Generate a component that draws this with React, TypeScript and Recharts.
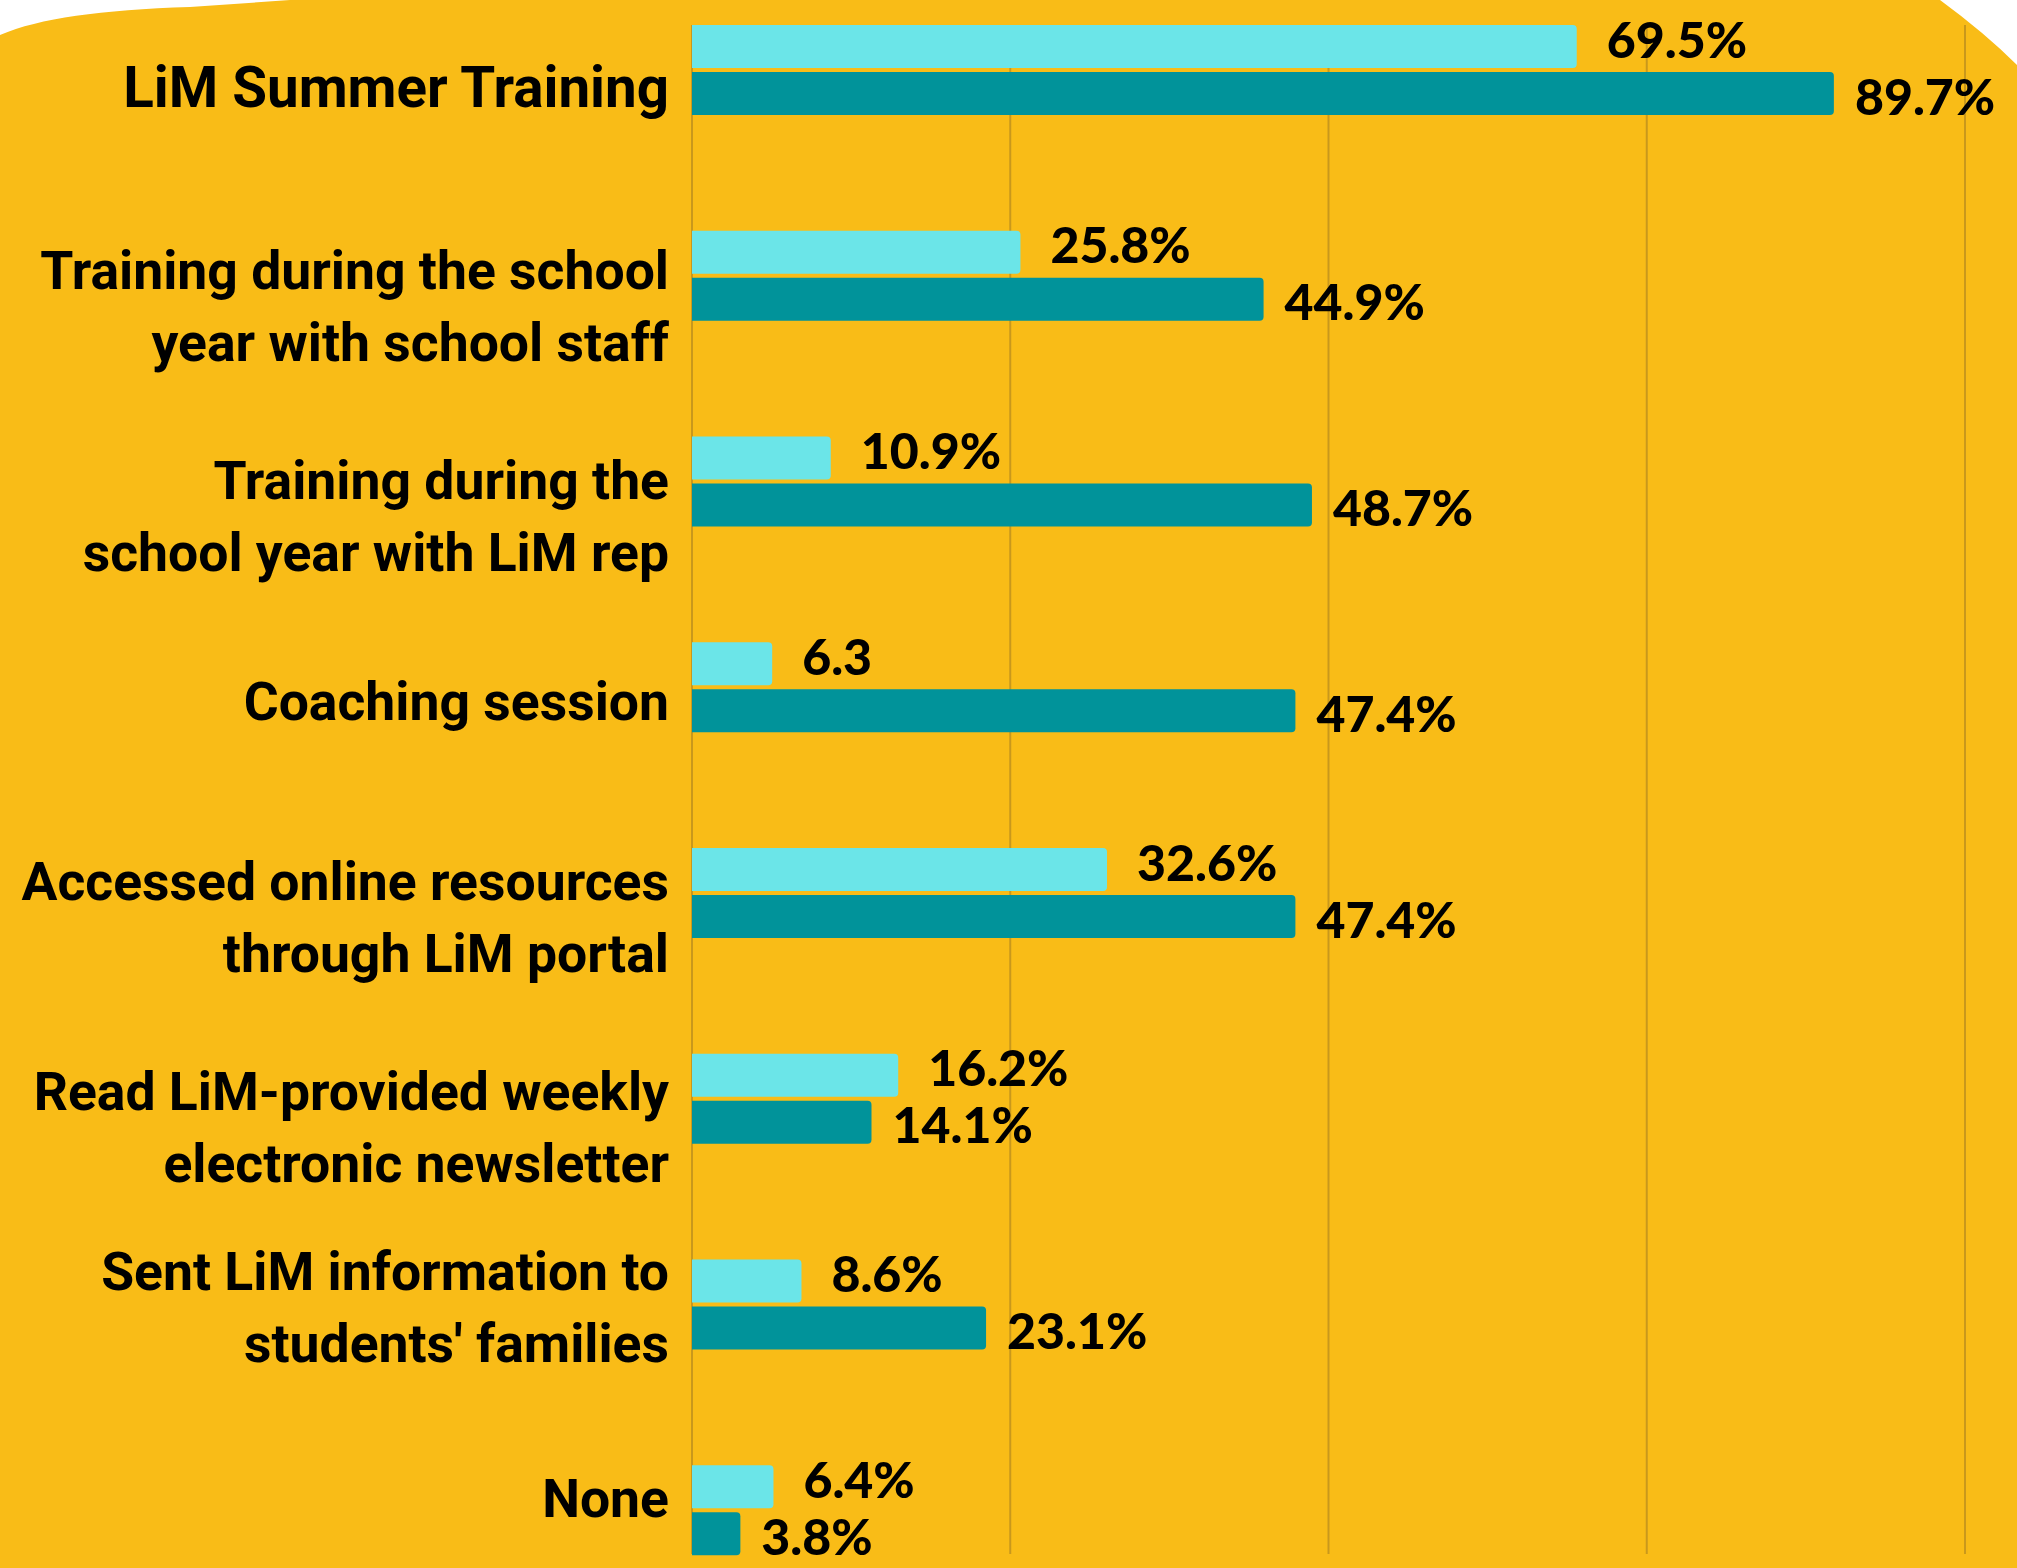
import { BarChart, Bar, XAxis, YAxis, CartesianGrid, LabelList } from "recharts";

const categories = [
  "LiM Summer Training",
  "Training during the school\nyear with school staff",
  "Training during the\nschool year with LiM rep",
  "Coaching session",
  "Accessed online resources\nthrough LiM portal",
  "Read LiM-provided weekly\nelectronic newsletter",
  "Sent LiM information to\nstudents' families",
  "None",
];
const lightValues = [69.5, 25.8, 10.9, 6.3, 32.6, 16.2, 8.6, 6.4];
const darkValues = [89.7, 44.9, 48.7, 47.4, 47.4, 14.1, 23.1, 3.8];
const lightLabels = ["69.5%", "25.8%", "10.9%", "6.3", "32.6%", "16.2%", "8.6%", "6.4%"];
const darkLabels = ["89.7%", "44.9%", "48.7%", "47.4%", "47.4%", "14.1%", "23.1%", "3.8%"];
const xTicks = [0, 25, 50, 75, 100];

// vertical nudge of each category label relative to its bar pair (px)
const labelShift = [18, 30, 35, 14, 24, 28, 3, -12];

const W = 2017;
const H = 1568;
const YELLOW = "#F9BC17";
const GRID = "#C9981C";

const data = categories.map((name, i) => ({
  name,
  light: lightValues[i],
  dark: darkValues[i],
  lightLabel: lightLabels[i],
  darkLabel: darkLabels[i],
}));

function CategoryTick({ x, y, payload, index }: any) {
  const lines = String(payload.value).split("\n");
  const lh = 72;
  const i0 = index ?? 0;
  const mid = y + labelShift[i0];
  // the first heading is set a little larger in the original
  const size = i0 === 0 ? 56.5 : 53.5;
  return (
    <g>
      {lines.map((line, i) => (
        <text
          key={i}
          x={x - 23}
          y={mid - ((lines.length - 1) * lh) / 2 + i * lh + 19}
          textAnchor="end"
          fontFamily="Roboto, 'Liberation Sans', sans-serif"
          fontWeight={700}
          fontSize={size}
          fill="#000"
        >
          {line}
        </text>
      ))}
    </g>
  );
}

function valueLabel(dx: number, dy: number) {
  return (props: any) => {
    const { x, y, width, height, value } = props;
    return (
      <text
        x={x + width + dx}
        y={y + height / 2 + dy + 18}
        fontFamily="Lato, 'Open Sans', sans-serif"
        fontWeight={900}
        fontSize={50}
        fill="#000"
      >
        {value}
      </text>
    );
  };
}

export default function App() {
  return (
    <div style={{ position: "absolute", left: 0, top: 0, width: W, height: H, background: "#fff" }}>
      <svg width={W} height={H} style={{ position: "absolute", left: 0, top: 0 }}>
        <path
          d="M0,35 C40,18 100,10 190,7 L290,0 L1940,0 Q1985,33 2017,65 L2017,1568 L0,1568 Z"
          fill={YELLOW}
        />
      </svg>
      <div style={{ position: "absolute", left: 0, top: 0 }}>
        <BarChart
          width={W}
          height={H}
          data={data}
          layout="vertical"
          margin={{ top: 25, right: 52, bottom: 14, left: 0 }}
          barSize={43}
          barGap={4}
        >
          <CartesianGrid horizontal={false} vertical stroke={GRID} strokeWidth={2} />
          <XAxis type="number" domain={[0, 100]} ticks={xTicks} hide />
          <YAxis
            type="category"
            dataKey="name"
            width={692}
            axisLine={false}
            tickLine={false}
            tickSize={0}
            tickMargin={0}
            interval={0}
            padding={{ top: -58, bottom: -59 }}
            tick={<CategoryTick />}
          />
          <Bar dataKey="light" fill="#6BE5E8" radius={[0, 4, 4, 0]} isAnimationActive={false}>
            <LabelList dataKey="lightLabel" content={valueLabel(30, -7)} />
          </Bar>
          <Bar dataKey="dark" fill="#01939A" radius={[0, 4, 4, 0]} isAnimationActive={false}>
            <LabelList dataKey="darkLabel" content={valueLabel(21, 3)} />
          </Bar>
        </BarChart>
      </div>
    </div>
  );
}
